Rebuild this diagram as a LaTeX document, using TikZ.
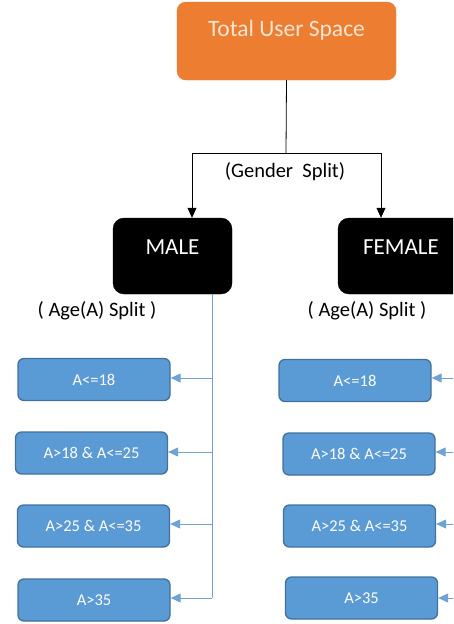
\documentclass[tikz,border=0pt]{standalone}
\usepackage{fontspec}
\setmainfont{Carlito}
\usetikzlibrary{arrows.meta}
\definecolor{orng}{HTML}{ED7D31}
\definecolor{orngtxt}{HTML}{FBE5D6}
\definecolor{bfill}{HTML}{5B9BD5}
\definecolor{bdraw}{HTML}{41719C}
\definecolor{bline}{HTML}{6FA3D6}
\tikzset{
  orangebox/.style={draw=orng, fill=orng, rounded corners=9pt, minimum width=219pt, minimum height=78pt, inner sep=0pt},
  blackbox/.style={draw=black, fill=black, rounded corners=11pt, minimum width=119pt, minimum height=76pt, inner sep=0pt},
  agebox/.style={draw=bdraw, fill=bfill, line width=1.3pt, rounded corners=6pt, minimum width=152pt, minimum height=42pt, inner sep=0pt, text=white, font=\fontsize{16.5}{18}\selectfont},
  btext/.style={text=white, font=\fontsize{23}{26}\selectfont, inner sep=0pt},
  lbl/.style={font=\fontsize{20.5}{23}\selectfont, inner sep=0pt},
  blackarrow/.style={draw=black, line width=0.8pt, -{Triangle[length=10pt,width=9pt]}},
  blueline/.style={draw=bline, line width=1pt},
  bluearrow/.style={draw=bline, line width=1pt, -{Triangle[length=10pt,width=9pt]}}
}
\begin{document}
\begin{tikzpicture}[x=1pt,y=-1pt]
\clip (0,0) rectangle (453,624);
\fill[white] (0,0) rectangle (453,624);
% top box
\node[orangebox] (total) at (286.5,41) {};
\node[text=orngtxt, font=\fontsize{23.5}{26}\selectfont, inner sep=0pt] (totaltxt) at (286.5,30) {Total User Space};
% gender boxes
\node[blackbox] (male) at (172.5,256) {};
\node[btext] (maletxt) at (172.5,247) {MALE};
\node[blackbox, minimum width=127pt] (female) at (401.5,256) {};
\node[btext] (femaletxt) at (401,247) {FEMALE};
% gender split connectors
\coordinate (split) at (286,153);
\coordinate (splitl) at (192,153);
\coordinate (splitr) at (381,153);
\draw[draw=black, line width=0.8pt] (total.south) -- (split);
\draw[draw=black, line width=0.8pt] (splitl) -- (splitr);
\draw[blackarrow] (splitl) -- (splitl |- male.north);
\draw[blackarrow] (splitr) -- (splitr |- female.north);
\node[lbl] (glbl) at (285,172) {(Gender\ \ Split)};
\node[lbl] (agel) at (97,311) {( Age(A) Split )};
\node[lbl] (ager) at (367,311) {( Age(A) Split )};
% left age boxes
\node[agebox] (l1) at (94,379.5) {A<=18};
\node[agebox] (l2) at (91.5,453) {A>18 \& A<=25};
\node[agebox] (l3) at (93.5,526) {A>25 \& A<=35};
\node[agebox] (l4) at (94,600) {A>35};
% right age boxes
\node[agebox] (r1) at (355,380.5) {A<=18};
\node[agebox] (r2) at (359,454) {A>18 \& A<=25};
\node[agebox] (r3) at (359.5,526) {A>25 \& A<=35};
\node[agebox] (r4) at (361.5,598) {A>35};
% left trunk
\coordinate (ltop) at (212,294);
\coordinate (lj1) at (212,378);
\coordinate (lj2) at (212,452);
\coordinate (lj3) at (212,524);
\coordinate (lj4) at (212,598);
\draw[blueline] (ltop) -- (lj4);
\draw[bluearrow] (lj1) -- (lj1 -| l1.east);
\draw[bluearrow] (lj2) -- (lj2 -| l2.east);
\draw[bluearrow] (lj3) -- (lj3 -| l3.east);
\draw[bluearrow] (lj4) -- (lj4 -| l4.east);
% right trunk (outside view)
\coordinate (rj1) at (470,378);
\coordinate (rj2) at (470,452);
\coordinate (rj3) at (470,524);
\coordinate (rj4) at (470,598);
\draw[bluearrow] (rj1) -- (rj1 -| r1.east);
\draw[bluearrow] (rj2) -- (rj2 -| r2.east);
\draw[bluearrow] (rj3) -- (rj3 -| r3.east);
\draw[bluearrow] (rj4) -- (rj4 -| r4.east);
\end{tikzpicture}
\end{document}
